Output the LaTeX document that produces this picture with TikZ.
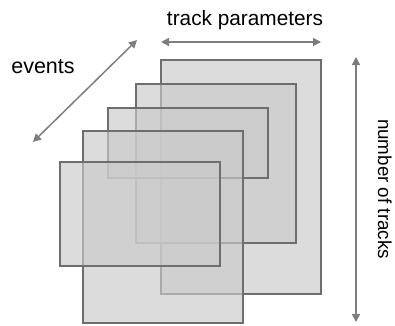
\documentclass[tikz,border=0pt]{standalone}
\usepackage{fontspec}
\setmainfont{Liberation Sans}
\usetikzlibrary{arrows.meta}
\definecolor{boxfill}{RGB}{202,202,202}
\definecolor{boxedge}{RGB}{110,110,110}
\definecolor{arrowgray}{RGB}{125,125,125}
\tikzset{
  layer/.style={draw=boxedge, line width=2.4pt, fill=boxfill, fill opacity=0.66},
  dimarrow/.style={draw=arrowgray, line width=1.5pt, {Triangle[length=8pt,width=8pt]}-{Triangle[length=8pt,width=8pt]}},
  lbl/.style={text=black, inner sep=0pt}
}
\begin{document}
\begin{tikzpicture}[x=1pt,y=-1pt]
\useasboundingbox (0,0) rectangle (395,325);
% layers, back to front
\path[layer] (161,60) rectangle (321,294);
\path[layer] (136,84) rectangle (296,243);
\path[layer] (108,108) rectangle (268,178);
\path[layer] (83,131) rectangle (243,323);
\path[layer] (60,162) rectangle (220,266);
% dimension arrows
\coordinate (evA) at (33,142);
\coordinate (evB) at (137,40);
\coordinate (tpA) at (161,42);
\coordinate (tpB) at (321,42);
\coordinate (ntA) at (356,57);
\coordinate (ntB) at (356,322);
\draw[dimarrow] (evA) -- (evB);
\draw[dimarrow] (tpA) -- (tpB);
\draw[dimarrow] (ntA) -- (ntB);
% labels
\node[lbl, anchor=base, font=\fontsize{20.8}{24}\selectfont] (tp) at (245,25) {track parameters};
\node[lbl, anchor=base, font=\fontsize{21.5}{24}\selectfont] (ev) at (43,73.5) {events};
\node[lbl, anchor=base, rotate=-90, font=\fontsize{18.8}{22}\selectfont] (nt) at (378,189) {number of tracks};
\end{tikzpicture}
\end{document}
